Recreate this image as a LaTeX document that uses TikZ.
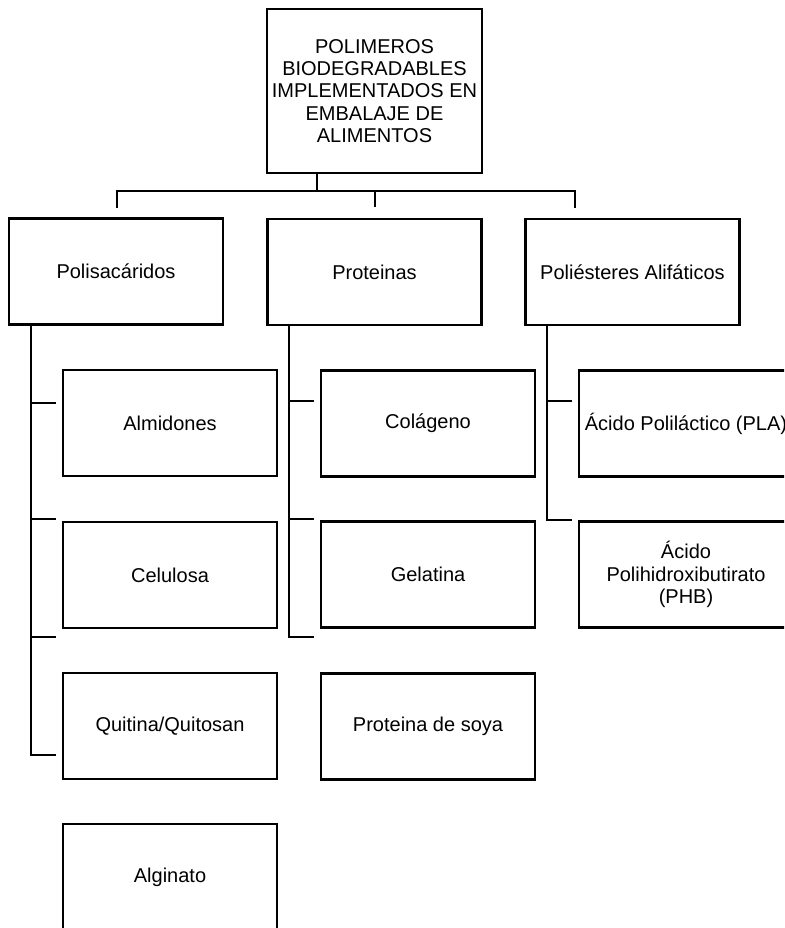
\documentclass[tikz,border=0pt]{standalone}
\usepackage{fontspec}
\setmainfont{Liberation Sans}
\begin{document}
\begin{tikzpicture}[x=1pt,y=-1pt,
  box/.style={draw, line width=2.2pt, rectangle, inner sep=0pt, align=center,
    minimum width=214pt, minimum height=106pt,
    font=\fontsize{20}{22.3}\selectfont},
  conn/.style={line width=2.2pt}]
\useasboundingbox (0,0) rectangle (784,928);
\clip (0,0) rectangle (784,928);
\node[box, minimum width=215pt, minimum height=164pt] (top) at (374.5,91) {POLIMEROS\\BIODEGRADABLES\\IMPLEMENTADOS EN\\EMBALAJE DE\\ALIMENTOS};
\node[box] (polis) at (116,271.5) {Polisacáridos};
\node[box] (prot) at (374.5,272) {Proteinas};
\node[box] (polie) at (632.5,272) {Poliésteres Alifáticos};
\node[box] (almid) at (170,423) {Almidones};
\node[box] (celul) at (170,575) {Celulosa};
\node[box] (quit) at (170,726) {Quitina/Quitosan};
\node[box] (algin) at (170,877) {Alginato};
\node[box] (colag) at (428,423.5) {Colágeno};
\node[box] (gelat) at (428,574.5) {Gelatina};
\node[box] (soya) at (428,726.5) {Proteina de soya};
\node[box] (pla) at (686,423.5) {Ácido Poliláctico (PLA)};
\node[box] (phb) at (686,574.5) {Ácido\\Polihidroxibutirato\\(PHB)};
% top bus
\coordinate (b0) at (317,191);
\coordinate (bL) at (117,191);
\coordinate (bR) at (575,191);
\coordinate (bM) at (375,191);
\draw[conn] (top.south -| b0) -- (b0);
\draw[conn] (117,208) -- (bL) -- (bR) -- (575,208);
\draw[conn] (bM) -- (375,207);
% left column
\coordinate (l1) at (56,403);
\coordinate (l2) at (56,519);
\coordinate (l3) at (56,637);
\coordinate (l4) at (56,755);
\draw[conn] (polis.south -| 31,0) -- (31,755) -- (l4);
\draw[conn] (31,403) -- (l1);
\draw[conn] (31,519) -- (l2);
\draw[conn] (31,637) -- (l3);
% middle column
\coordinate (m1) at (314,401);
\coordinate (m2) at (314,519);
\coordinate (m3) at (314,637);
\draw[conn] (prot.south -| 289,0) -- (289,637) -- (m3);
\draw[conn] (289,401) -- (m1);
\draw[conn] (289,519) -- (m2);
% right column
\coordinate (r1) at (572,401);
\coordinate (r2) at (572,520);
\draw[conn] (polie.south -| 547,0) -- (547,520) -- (r2);
\draw[conn] (547,401) -- (r1);
\end{tikzpicture}
\end{document}
